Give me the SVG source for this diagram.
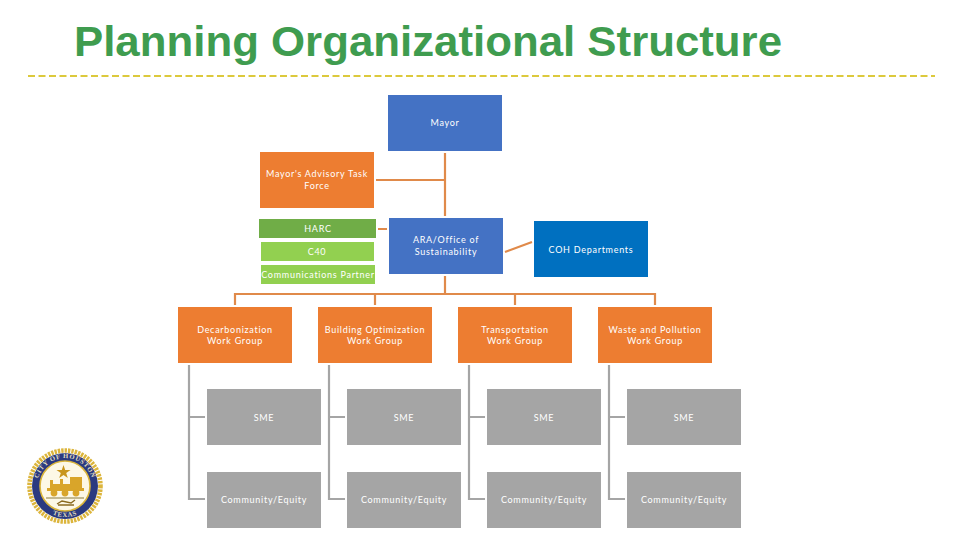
<svg xmlns="http://www.w3.org/2000/svg" width="960" height="540" viewBox="0 0 960 540">
<style>
.t{font-family:Lato,"Open Sans","Liberation Sans",sans-serif;font-size:9px;fill:#fff;text-anchor:middle;letter-spacing:.72px}
.title{font-family:"Liberation Sans",Arial,sans-serif;font-size:42px;font-weight:bold;fill:#3f9c4f}
.o{stroke:#e08a4a;stroke-width:2.2;fill:none}
.g{stroke:#a5a5a5;stroke-width:2.2;fill:none}
.blue{fill:#4472c4}.org{fill:#ed7d31}.gry{fill:#a5a5a5}.lg{fill:#92d050}
.seal{font-family:"Liberation Serif",serif;font-weight:bold;font-size:6.6px;fill:#e8e0c0;letter-spacing:.7px}
</style>
<defs>
<path id="arcTop" d="M40.7 499.5A27.8 27.8 0 1 1 89.3 499.5"/>
<path id="arcBot" d="M42 507A31.5 31.5 0 0 0 88 507"/>
</defs>
<rect width="960" height="540" fill="#fff"/>
<text class="title" x="74" y="56" textLength="708" lengthAdjust="spacingAndGlyphs">Planning Organizational Structure</text>
<line x1="28" y1="76" x2="935" y2="76" stroke="#dcc93c" stroke-width="2.2" stroke-dasharray="7 3.5"/>
<g id="connectors">
<path class="o" d="M445 153V216M376 180H445M378 229H387M505 252L532 242M445 276V294M235 305V294H655V305M375 294V305M515 294V305"/>
<path class="g" d="M189 365V499H205M189 417H205M329 365V499H345M329 417H345M469 365V499H485M469 417H485M609 365V499H625M609 417H625"/>
</g>
<g id="mayor"><rect class="blue" x="388" y="95" width="114" height="56"/><text class="t" x="445" y="126">Mayor</text></g>
<g id="advisory"><rect class="org" x="260" y="152" width="114" height="56"/><text class="t" x="317" y="177">Mayor's Advisory Task</text><text class="t" x="317" y="189">Force</text></g>
<g id="harc"><rect x="259" y="219" width="117" height="19" fill="#70ad47"/><text class="t" x="318" y="232">HARC</text></g>
<g id="c40"><rect class="lg" x="261" y="242" width="113" height="19"/><text class="t" x="317" y="255">C40</text></g>
<g id="comm"><rect class="lg" x="261" y="265" width="114" height="19"/><text class="t" x="318" y="278">Communications Partner</text></g>
<g id="ara"><rect class="blue" x="389" y="218" width="114" height="56"/><text class="t" x="446" y="243">ARA/Office of</text><text class="t" x="446" y="255">Sustainability</text></g>
<g id="coh"><rect x="534" y="221" width="114" height="56" fill="#0070c0"/><text class="t" x="591" y="253">COH Departments</text></g>
<g id="wg1"><rect class="org" x="178" y="307" width="114" height="56"/><text class="t" x="235" y="333">Decarbonization</text><text class="t" x="235" y="344">Work Group</text></g>
<g id="wg2"><rect class="org" x="318" y="307" width="114" height="56"/><text class="t" x="375" y="333">Building Optimization</text><text class="t" x="375" y="344">Work Group</text></g>
<g id="wg3"><rect class="org" x="458" y="307" width="114" height="56"/><text class="t" x="515" y="333">Transportation</text><text class="t" x="515" y="344">Work Group</text></g>
<g id="wg4"><rect class="org" x="598" y="307" width="114" height="56"/><text class="t" x="655" y="333">Waste and Pollution</text><text class="t" x="655" y="344">Work Group</text></g>
<g id="sme1"><rect class="gry" x="207" y="389" width="114" height="56"/><text class="t" x="264" y="421">SME</text></g>
<g id="sme2"><rect class="gry" x="347" y="389" width="114" height="56"/><text class="t" x="404" y="421">SME</text></g>
<g id="sme3"><rect class="gry" x="487" y="389" width="114" height="56"/><text class="t" x="544" y="421">SME</text></g>
<g id="sme4"><rect class="gry" x="627" y="389" width="114" height="56"/><text class="t" x="684" y="421">SME</text></g>
<g id="ce1"><rect class="gry" x="207" y="472" width="114" height="56"/><text class="t" x="264" y="503">Community/Equity</text></g>
<g id="ce2"><rect class="gry" x="347" y="472" width="114" height="56"/><text class="t" x="404" y="503">Community/Equity</text></g>
<g id="ce3"><rect class="gry" x="487" y="472" width="114" height="56"/><text class="t" x="544" y="503">Community/Equity</text></g>
<g id="ce4"><rect class="gry" x="627" y="472" width="114" height="56"/><text class="t" x="684" y="503">Community/Equity</text></g>
<g id="seal">
<circle cx="65" cy="486" r="33" fill="#2b3a80"/>
<circle cx="65" cy="486" r="35.5" fill="none" stroke="#dcb53c" stroke-width="4.6" stroke-dasharray="2.4 1"/>
<circle cx="65" cy="486" r="25" fill="#fdf8e6" stroke="#d9b43a" stroke-width="1.6"/>
<text class="seal"><textPath href="#arcTop" startOffset="50%" text-anchor="middle">CITY OF HOUSTON</textPath></text>
<text class="seal"><textPath href="#arcBot" startOffset="50%" text-anchor="middle">TEXAS</textPath></text>
<polygon points="63.5,465 65.2,470 70.5,470 66.2,473 67.8,478 63.5,475 59.2,478 60.8,473 56.5,470 61.8,470" fill="#c9961e"/>
<path d="M50 488V480H53V484H60V479H63V484H70V477H82V488H84V491H47V488Z" fill="#d9a52a"/>
<circle cx="54" cy="493" r="3.4" fill="#d9a52a"/><circle cx="65" cy="493" r="3.4" fill="#d9a52a"/><circle cx="76" cy="493" r="3.4" fill="#d9a52a"/>
<path d="M46 498H84" stroke="#8a7a3a" stroke-width="1"/>
<path d="M57 504L62 501L71 503L75 500M58 505H74" stroke="#8a6a20" stroke-width="1.4" fill="none"/>
</g>
</svg>
